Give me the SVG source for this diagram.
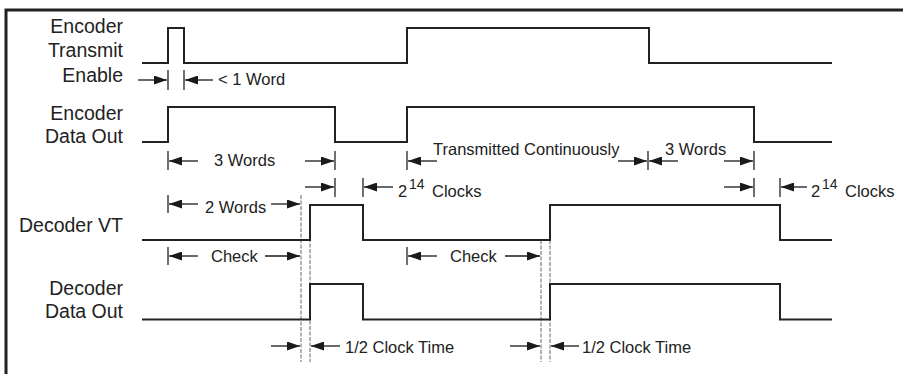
<svg xmlns="http://www.w3.org/2000/svg" width="903" height="374" viewBox="0 0 903 374">
<defs>
<marker id="ah" markerUnits="userSpaceOnUse" markerWidth="13" markerHeight="9" refX="13" refY="4.5" orient="auto">
<path d="M0,0 L13,4.5 L0,9 z" fill="#1a1a1a"/>
</marker>
<style>
.lbl{font-family:"Liberation Sans",Arial,sans-serif;font-size:19.5px;fill:#222;text-anchor:end}
.ann{font-family:"Liberation Sans",Arial,sans-serif;font-size:16.5px;fill:#222}
.sup{font-family:"Liberation Sans",Arial,sans-serif;font-size:14px;fill:#222}
.wave{fill:none;stroke:#222;stroke-width:2}
.arr{stroke:#1a1a1a;stroke-width:1.3;marker-end:url(#ah)}
.tick{stroke:#222;stroke-width:1.3}
.dash{stroke:#666;stroke-width:1;stroke-dasharray:4 1.5}
.frame{fill:none;stroke:#222;stroke-width:3}
</style>
</defs>
<rect width="903" height="374" fill="#fff"/>
<path class="frame" d="M6,374 V10 H903"/>

<g id="labels">
<g id="ete-label"><text class="lbl" x="123" y="33">Encoder</text><text class="lbl" x="123" y="57">Transmit</text><text class="lbl" x="123" y="82">Enable</text></g>
<g id="edo-label"><text class="lbl" x="123" y="120">Encoder</text><text class="lbl" x="123" y="143">Data Out</text></g>
<g id="dvt-label"><text class="lbl" x="123" y="232">Decoder VT</text></g>
<g id="ddo-label"><text class="lbl" x="123" y="295">Decoder</text><text class="lbl" x="123" y="318">Data Out</text></g>
</g>

<g id="guides">
<line class="dash" x1="301" y1="195" x2="301" y2="362"/>
<line class="dash" x1="310" y1="205" x2="310" y2="362"/>
<line class="dash" x1="541" y1="240" x2="541" y2="362"/>
<line class="dash" x1="550" y1="240" x2="550" y2="362"/>
</g>

<g id="waveforms">
<path id="ete-wave" class="wave" d="M142,63 H168 V28 H184 V63 H407 V28 H649 V63 H832"/>
<path id="edo-wave" class="wave" d="M142,142 H168 V107 H335 V142 H407 V107 H754 V142 H832"/>
<path id="dvt-wave" class="wave" d="M142,240 H310 V205 H363 V240 H550 V205 H780 V240 H832"/>
<path id="ddo-wave" class="wave" d="M142,319.5 H310 V284 H363 V319.5 H550 V284 H780 V319.5 H832"/>
</g>

<g id="connectors">
<!-- < 1 Word -->
<line class="tick" x1="168" y1="70" x2="168" y2="90"/>
<line class="tick" x1="184" y1="70" x2="184" y2="90"/>
<line class="arr" x1="138" y1="80" x2="167" y2="80"/>
<line class="arr" x1="213" y1="80" x2="185" y2="80"/>
<!-- 3 Words / Transmitted -->
<line class="tick" x1="168" y1="151" x2="168" y2="170"/>
<line class="arr" x1="198" y1="161" x2="169" y2="161"/>
<line class="arr" x1="305" y1="161" x2="334" y2="161"/>
<line class="tick" x1="335" y1="151" x2="335" y2="170"/>
<line class="tick" x1="407" y1="151" x2="407" y2="170"/>
<line class="arr" x1="437" y1="161" x2="408" y2="161"/>
<line class="arr" x1="618" y1="161" x2="647" y2="161"/>
<line class="tick" x1="648" y1="151" x2="648" y2="170"/>
<line class="arr" x1="678" y1="161" x2="649" y2="161"/>
<line class="arr" x1="724" y1="161" x2="753" y2="161"/>
<line class="tick" x1="754" y1="151" x2="754" y2="170"/>
<!-- 2^14 Clocks -->
<line class="arr" x1="305" y1="187" x2="334" y2="187"/>
<line class="tick" x1="335" y1="178" x2="335" y2="197"/>
<line class="tick" x1="363" y1="178" x2="363" y2="197"/>
<line class="arr" x1="393" y1="187" x2="364" y2="187"/>
<line class="arr" x1="724" y1="187" x2="753" y2="187"/>
<line class="tick" x1="754" y1="178" x2="754" y2="197"/>
<line class="tick" x1="780" y1="178" x2="780" y2="197"/>
<line class="arr" x1="807" y1="187" x2="781" y2="187"/>
<!-- 2 Words -->
<line class="tick" x1="168" y1="195" x2="168" y2="213"/>
<line class="arr" x1="198" y1="204" x2="169" y2="204"/>
<line class="arr" x1="271" y1="204" x2="300" y2="204"/>
<!-- Check -->
<line class="tick" x1="168" y1="247" x2="168" y2="265"/>
<line class="arr" x1="198" y1="256" x2="169" y2="256"/>
<line class="arr" x1="265" y1="256" x2="300" y2="256"/>
<line class="tick" x1="407" y1="247" x2="407" y2="265"/>
<line class="arr" x1="437" y1="256" x2="408" y2="256"/>
<line class="arr" x1="505" y1="256" x2="540" y2="256"/>
<!-- 1/2 Clock Time -->
<line class="arr" x1="271" y1="346" x2="300" y2="346"/>
<line class="arr" x1="340" y1="346" x2="311" y2="346"/>
<line class="arr" x1="510" y1="346" x2="540" y2="346"/>
<line class="arr" x1="579" y1="346" x2="551" y2="346"/>
</g>

<g id="annotations">
<text class="ann" x="218" y="85">&lt; 1 Word</text>
<text class="ann" x="214" y="166">3 Words</text>
<text class="ann" x="433" y="155">Transmitted Continuously</text>
<text class="ann" x="665" y="155">3 Words</text>
<text class="ann" x="398" y="197">2</text><text class="sup" x="409" y="189">14</text><text class="ann" x="432" y="197">Clocks</text>
<text class="ann" x="811" y="197">2</text><text class="sup" x="822" y="189">14</text><text class="ann" x="845" y="197">Clocks</text>
<text class="ann" x="205" y="213">2 Words</text>
<text class="ann" x="211" y="262">Check</text>
<text class="ann" x="450" y="262">Check</text>
<text class="ann" x="345" y="353">1/2 Clock Time</text>
<text class="ann" x="582" y="353">1/2 Clock Time</text>
</g>
</svg>
